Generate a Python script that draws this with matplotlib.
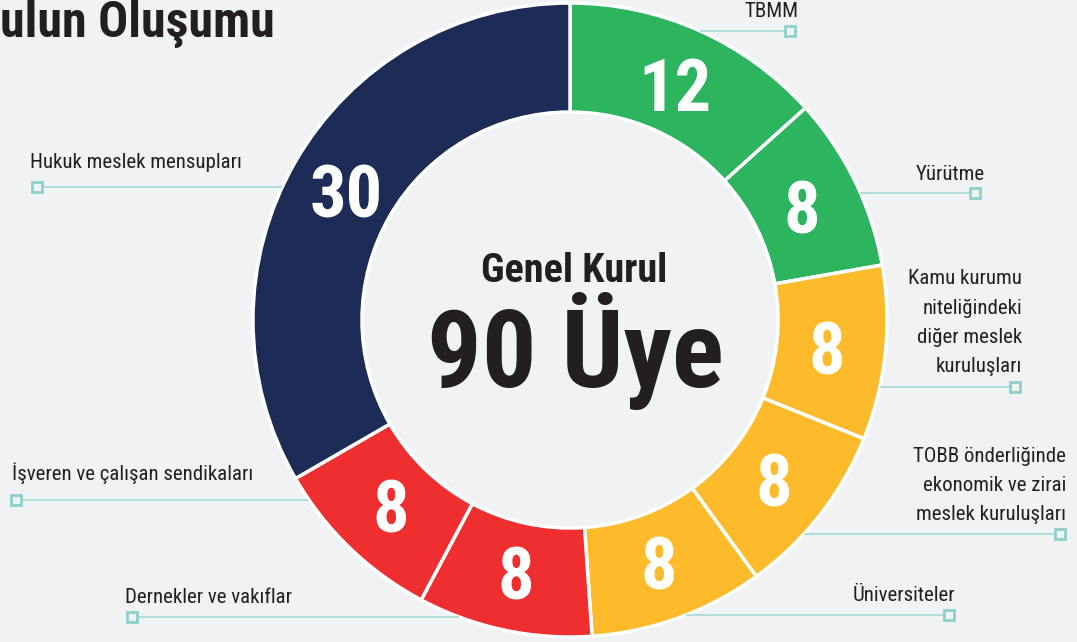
import matplotlib
matplotlib.use("Agg")
import matplotlib.pyplot as plt
from matplotlib import font_manager
import numpy as np

# --- data ---
categories = ["TBMM", "Yürütme",
              "Kamu kurumu\nniteliğindeki\ndiğer meslek\nkuruluşları",
              "TOBB önderliğinde\nekonomik ve zirai\nmeslek kuruluşları",
              "Üniversiteler", "Dernekler ve vakıflar",
              "İşveren ve çalışan sendikaları", "Hukuk meslek mensupları"]
members = [12, 8, 8, 8, 8, 8, 8, 30]
seg_colors = ["#2cb45f", "#2cb45f", "#fdbb2b", "#fdbb2b", "#fdbb2b",
              "#ee2e2f", "#ee2e2f", "#1d2b57"]
center_top = "Genel Kurul"
center_main = f"{sum(members)} Üye"
title = "ulun Oluşumu"

W, H = 1077, 642
BG = "#f1f2f4"
DARK = "#231f20"
TEAL = "#a9dad7"


def pick_font():
    entries = font_manager.fontManager.ttflist
    for name in ["Liberation Sans Narrow", "Roboto Condensed",
                 "Noto Sans ExtraCondensed", "Noto Sans Condensed",
                 "Open Sans Condensed"]:
        if any(f.name == name for f in entries):
            return name, "normal"
    for st in ["extra-condensed", "condensed", "semi-condensed"]:
        for name in ["Noto Sans", "Roboto", "Open Sans", "DejaVu Sans"]:
            if any(f.name == name and f.stretch == st for f in entries):
                return name, st
    return "DejaVu Sans", "normal"


FONT, STRETCH = pick_font()

fig = plt.figure(figsize=(W / 100, H / 100), dpi=100, facecolor=BG)
ax = fig.add_axes([0, 0, 1, 1])
ax.set_facecolor(BG)

# ring geometry in pixels (y measured from top, converted below)
cx, cy = 570, 320
R, ring_w = 317, 109


def fy(y):
    return H - y


total = sum(members)
wedges, _, autotexts = ax.pie(
    members, colors=seg_colors, startangle=90, counterclock=False,
    center=(cx, fy(cy)), radius=R,
    wedgeprops=dict(width=ring_w, edgecolor="white", linewidth=2.5),
    autopct=lambda p: f"{round(p * total / 100)}", pctdistance=0.815,
    textprops=dict(color="white", fontsize=52, fontweight="bold",
                   family=FONT, fontstretch=STRETCH))
for t in autotexts:
    t.set_va("center_baseline")

# label layout: text x, last-line baseline y, align, leader y, square x
layout = [
    (798, 17, "right", 31, 790),
    (985, 180, "right", 193, 975),
    (1022, 372, "right", 387, 1015),
    (1066, 520, "right", 534, 1060),
    (955, 601, "right", 615, 949),
    (125, 603, "left", 617, 132),
    (12, 480, "left", 500, 16),
    (30, 168, "left", 187, 37),
]

for lab, (tx, ty, ha, ly, sx) in zip(categories, layout):
    ax.text(tx, fy(ty), lab, ha=ha, va="baseline", fontsize=15,
            color=DARK, family=FONT, fontstretch=STRETCH,
            linespacing=1.68, multialignment=ha)
    dx = np.sqrt(max(R ** 2 - (ly - cy) ** 2, 0))
    edge_x = cx + dx if ha == "right" else cx - dx
    ax.plot([edge_x, sx], [fy(ly), fy(ly)], color=TEAL, lw=1.3, zorder=1,
            solid_capstyle="butt")
    ax.plot(sx, fy(ly), marker="s", markersize=7.5, mfc="#eef3f3",
            mec="#8fd0cc", mew=2, zorder=3)

ax.text(574, fy(282), center_top, ha="center", va="baseline", fontsize=29,
        fontweight="bold", color=DARK, family=FONT, fontstretch=STRETCH)
ax.text(575, fy(387), center_main, ha="center", va="baseline", fontsize=78,
        fontweight="bold", color=DARK, family=FONT, fontstretch=STRETCH)
ax.text(0, fy(37), title, ha="left", va="baseline", fontsize=36,
        fontweight="bold", color=DARK, family=FONT, fontstretch=STRETCH)

ax.set_xlim(0, W)
ax.set_ylim(0, H)
ax.set_aspect("equal")
ax.axis("off")

fig.savefig("out.png", dpi=100, facecolor=BG)
